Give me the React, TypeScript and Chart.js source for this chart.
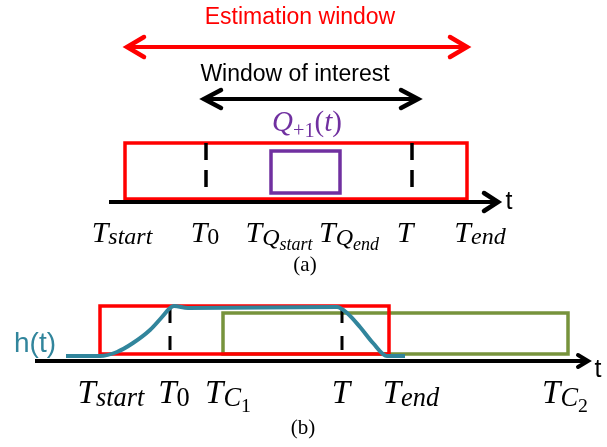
import React, { useEffect, useRef } from 'react';
import { Chart, registerables } from 'chart.js';

Chart.register(...registerables);

const W = 607;
const H = 447;

// ---------- Panel (a): estimation window on the time axis ----------
const aAxisRange = [109, 498];
const aAxisLevel = 202;
const aEstimationWindow = [125, 467];
const aWindowLevels = [143, 199];
const aQWindow = [271, 340];
const aQLevels = [151, 193];
const aDashedTimes = [206, 412];
const aDashedLevels = [143, 193];
const aEstimationArrow = [127, 467];
const aEstimationArrowLevel = 47;
const aInterestArrow = [204, 418];
const aInterestArrowLevel = 99;
const aTickLabels = ['T_start', 'T_0', 'T_Qstart', 'T_Qend', 'T', 'T_end'];
const aTickPos = [122, 205, 279, 349, 405, 480];

// ---------- Panel (b): h(t) and the two windows ----------
const bAxisRange = [35, 588];
const bAxisLevel = 361;
const bEstimationWindow = [100, 389];
const bWindowLevels = [306, 354];
const bCWindow = [223, 568];
const bCLevels = [313, 354];
const bDashedTimes = [170, 342];
const bDashedLevels = [309, 353];
const hTimes = [66, 100, 117, 133, 150, 162, 169, 174, 188, 337, 347, 360, 373, 387, 405];
const hValues = [356, 356, 352, 343, 330, 317, 309, 306, 308, 307, 313, 327, 343, 356, 356];
const bTickLabels = ['T_start', 'T_0', 'T_C1', 'T', 'T_end', 'T_C2'];
const bTickPos = [111, 174, 228, 341, 411, 565];

const RED = '#FF0000';
const PURPLE = '#7030A0';
const GREEN = '#77933C';
const TEAL = '#31859C';
const BLACK = '#000000';

type Part = [string, number, number, boolean];
const MATH: Record<string, Part[]> = {
  T_start: [['T', 1, 0, true], ['start', 0.8, 0.08, true]],
  T_0: [['T', 1, 0, true], ['0', 0.8, 0.08, false]],
  T_Qstart: [['T', 1, 0, true], ['Q', 0.8, 0.1, true], ['start', 0.6, 0.28, true]],
  T_Qend: [['T', 1, 0, true], ['Q', 0.8, 0.1, true], ['end', 0.6, 0.28, true]],
  T: [['T', 1, 0, true]],
  T_end: [['T', 1, 0, true], ['end', 0.8, 0.08, true]],
  T_C1: [['T', 1, 0, true], ['C', 0.8, 0.1, true], ['1', 0.6, 0.28, false]],
  T_C2: [['T', 1, 0, true], ['C', 0.8, 0.1, true], ['2', 0.6, 0.28, false]],
  Q: [['Q', 1, 0, true], ['+1', 0.7, 0.2, false], ['(', 1, 0, false], ['t', 1, 0, true], [')', 1, 0, false]],
};

const serif = (size: number, italic: boolean) =>
  `${italic ? 'italic ' : ''}${size}px "Liberation Serif", "DejaVu Serif", serif`;

function drawMath(ctx: CanvasRenderingContext2D, key: string, cx: number, baseline: number, size: number, color: string) {
  const parts = MATH[key];
  let w = 0;
  for (const [t, s, , it] of parts) {
    ctx.font = serif(size * s, it);
    w += ctx.measureText(t).width;
  }
  let x = cx - w / 2;
  ctx.fillStyle = color;
  ctx.textAlign = 'left';
  ctx.textBaseline = 'alphabetic';
  for (const [t, s, dy, it] of parts) {
    ctx.font = serif(size * s, it);
    ctx.fillText(t, x, baseline + dy * size);
    x += ctx.measureText(t).width;
  }
}

const pts = (xs: number[], ys: number[]) => xs.map((x, i) => ({ x, y: ys[i] }));
const rect = (xr: number[], yr: number[]) => {
  const [x0, x1] = xr;
  const [y0, y1] = yr;
  const m = (x0 + x1) / 2;
  return pts([m, x1, x1, x0, x0, m], [y1, y1, y0, y0, y1, y1]);
};
const vline = (x: number, yr: number[]) => pts([x, x], yr);
const hline = (xr: number[], y: number) => pts(xr, [y, y]);

function lineDs(data: any[], color: string, width: number, extra: any = {}) {
  return {
    data,
    showLine: true,
    borderColor: color,
    backgroundColor: color,
    borderWidth: width,
    pointRadius: 0,
    fill: false,
    borderJoinStyle: 'miter',
    borderCapStyle: 'butt',
    tension: 0,
    ...extra,
  };
}

const overlay = {
  id: 'diagramOverlay',
  afterDatasetsDraw(chart: any) {
    const ctx: CanvasRenderingContext2D = chart.ctx;
    const sx = chart.scales.x;
    const sy = chart.scales.y;
    const px = (v: number) => sx.getPixelForValue(v);
    const py = (v: number) => sy.getPixelForValue(v);

    const chevron = (tipX: number, tipY: number, dir: number, L: number, h: number, lw: number, color: string) => {
      ctx.save();
      ctx.strokeStyle = color;
      ctx.lineWidth = lw;
      ctx.lineJoin = 'miter';
      ctx.lineCap = 'round';
      ctx.beginPath();
      ctx.moveTo(tipX - dir * L, tipY - h);
      ctx.lineTo(tipX, tipY);
      ctx.lineTo(tipX - dir * L, tipY + h);
      ctx.stroke();
      ctx.restore();
    };

    // arrowheads
    chevron(px(aEstimationArrow[0]), py(aEstimationArrowLevel), -1, 17, 10, 4.5, RED);
    chevron(px(aEstimationArrow[1]), py(aEstimationArrowLevel), 1, 17, 10, 4.5, RED);
    chevron(px(aInterestArrow[0]), py(aInterestArrowLevel), -1, 17, 9, 4.5, BLACK);
    chevron(px(aInterestArrow[1]), py(aInterestArrowLevel), 1, 17, 9, 4.5, BLACK);
    chevron(px(aAxisRange[1]), py(aAxisLevel), 1, 14, 9, 4.5, BLACK);
    chevron(px(bAxisRange[1]), py(bAxisLevel), 1, 10, 6, 4, BLACK);

    ctx.save();
    // sans texts
    ctx.textAlign = 'center';
    ctx.textBaseline = 'alphabetic';
    ctx.font = '23px "Liberation Sans", Arial, sans-serif';
    ctx.fillStyle = RED;
    ctx.fillText('Estimation window', px(300), py(24));
    ctx.fillStyle = BLACK;
    ctx.fillText('Window of interest', px(295), py(81));

    ctx.font = '25px "Liberation Sans", Arial, sans-serif';
    ctx.fillText('t', px(509), py(209));
    ctx.fillText('t', px(598), py(377));

    ctx.fillStyle = TEAL;
    ctx.textAlign = 'right';
    ctx.font = '28px "Liberation Sans", Arial, sans-serif';
    ctx.fillText('h(t)', px(56), py(352));

    // captions
    ctx.fillStyle = BLACK;
    ctx.textAlign = 'center';
    ctx.font = '21px "Liberation Serif", "Times New Roman", serif';
    ctx.fillText('(a)', px(305), py(271));
    ctx.fillText('(b)', px(303), py(434));

    // math labels
    drawMath(ctx, 'Q', px(307), py(131), 29, PURPLE);
    aTickLabels.forEach((k, i) => drawMath(ctx, k, px(aTickPos[i]), py(242), 30, BLACK));
    bTickLabels.forEach((k, i) => drawMath(ctx, k, px(bTickPos[i]), py(403), 33, BLACK));
    ctx.restore();
  },
};

export default function App() {
  const ref = useRef<HTMLCanvasElement>(null);

  useEffect(() => {
    document.body.style.margin = '0';
    const canvas = ref.current;
    if (!canvas) return;

    // first dataset is drawn on top
    const datasets: any[] = [
      // panel (b)
      lineDs(pts(hTimes, hValues), TEAL, 4, { cubicInterpolationMode: 'monotone', borderJoinStyle: 'round' }),
      lineDs(vline(bDashedTimes[0], bDashedLevels), BLACK, 3, { borderDash: [14, 13] }),
      lineDs(vline(bDashedTimes[1], bDashedLevels), BLACK, 3, { borderDash: [14, 13] }),
      lineDs(rect(bEstimationWindow, bWindowLevels), RED, 3.5),
      lineDs(rect(bCWindow, bCLevels), GREEN, 3.5),
      lineDs(hline([bAxisRange[0], bAxisRange[1] - 2], bAxisLevel), BLACK, 4),
      // panel (a)
      lineDs(hline([aEstimationArrow[0] + 2, aEstimationArrow[1] - 2], aEstimationArrowLevel), RED, 4),
      lineDs(hline([aInterestArrow[0] + 2, aInterestArrow[1] - 2], aInterestArrowLevel), BLACK, 4),
      lineDs(vline(aDashedTimes[0], aDashedLevels), BLACK, 3.5, { borderDash: [17, 10] }),
      lineDs(vline(aDashedTimes[1], aDashedLevels), BLACK, 3.5, { borderDash: [17, 10] }),
      lineDs(rect(aQWindow, aQLevels), PURPLE, 3.5),
      lineDs(hline([aAxisRange[0], aAxisRange[1] - 2], aAxisLevel), BLACK, 4),
      lineDs(rect(aEstimationWindow, aWindowLevels), RED, 3.5),
    ];

    const chart = new Chart(canvas, {
      type: 'scatter',
      data: { datasets },
      options: {
        animation: false,
        responsive: false,
        devicePixelRatio: 1,
        layout: { padding: 0 },
        events: [],
        scales: {
          x: { type: 'linear', min: 0, max: W, display: false },
          y: { type: 'linear', min: 0, max: H, reverse: true, display: false },
        },
        plugins: {
          legend: { display: false },
          tooltip: { enabled: false },
        },
        elements: { point: { radius: 0 } },
      } as any,
      plugins: [overlay],
    });
    return () => chart.destroy();
  }, []);

  return (
    <div style={{ width: W, height: H, background: '#fff' }}>
      <canvas ref={ref} width={W} height={H} style={{ display: 'block', width: W, height: H }} />
    </div>
  );
}
